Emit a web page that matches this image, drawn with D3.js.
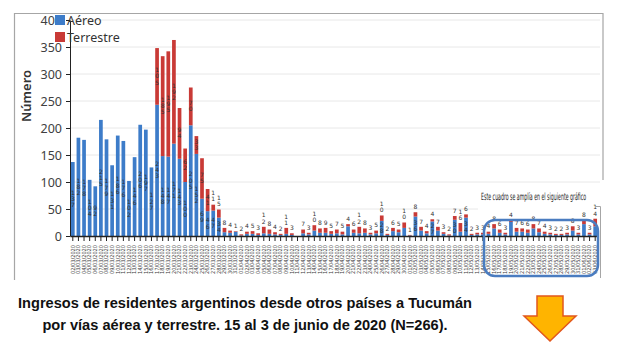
<!DOCTYPE html>
<html>
<head>
<meta charset="utf-8">
<script src="https://cdn.jsdelivr.net/npm/d3@7"></script>
<style>
  body { margin: 0; background: #fff; }
  svg { display: block; }
</style>
</head>
<body>
<svg id="chart" width="634" height="353"></svg>
<script>
// días de ingreso (categorías), del 2 de marzo al 3 de junio
const inicio = new Date(2020, 2, 2);
const fin = new Date(2020, 5, 4);
const dias = d3.timeDay.range(inicio, fin);

// valores
const aereo = [137, 182, 178, 104, 92, 215, 179, 131, 186, 176,
  102, 146, 206, 197, 127, 243, 148, 147, 171, 143,
  100, 205, 152, 69, 46, 47, 34, 7, 6, 8,
  1, 4, 4, 2, 5, 4, 3, 2, 4, 2,
  0, 5, 3, 10, 6, 6, 4, 5, 3, 18,
  6, 5, 6, 3, 5, 28, 2, 9, 7, 15,
  1, 36, 10, 5, 27, 10, 4, 1, 30, 8,
  34, 2, 3, 3, 4, 14, 6, 3, 26, 8,
  8, 6, 14, 7, 4, 3, 2, 2, 3, 10,
  3, 22, 3, 18];
const terrestre = [0, 0, 0, 0, 0, 0, 0, 0, 0, 0,
  0, 0, 0, 0, 0, 105, 185, 195, 192, 94,
  62, 70, 33, 75, 41, 11, 15, 8, 4, 1,
  2, 4, 5, 3, 12, 8, 4, 2, 11, 3,
  0, 7, 3, 10, 8, 9, 5, 7, 5, 4,
  6, 12, 8, 3, 5, 10, 2, 6, 5, 10,
  1, 8, 7, 4, 4, 7, 3, 2, 7, 16,
  6, 2, 3, 3, 4, 8, 6, 3, 4, 7,
  6, 6, 8, 7, 4, 3, 2, 2, 3, 8,
  3, 8, 3, 14];
const series = ["Aéreo", "Terrestre"];
const colores = ["#3d7cc9", "#c93a36"];
const yTicks = [0, 50, 100, 150, 200, 250, 300, 350, 400];

const fmt = d3.timeFormat("%d/%m/%Y");
const datos = dias.map((d, i) => ({ fecha: fmt(d), aereo: aereo[i], terrestre: terrestre[i] }));

const svg = d3.select("#chart");

// marco del gráfico
svg.append("path")
  .attr("d", "M603,180V13.5H14.5V280")
  .attr("fill", "none")
  .attr("stroke", "#a6a6a6")
  .attr("stroke-width", 1.2);

const x = d3.scaleBand()
  .domain(datos.map(d => d.fecha))
  .range([70, 598])
  .paddingInner(0.34)
  .paddingOuter(0.17);

const y = d3.scaleLinear().domain([0, 400]).range([236, 20]);

// grilla
svg.append("g")
  .selectAll("line")
  .data(yTicks.filter(t => t > 0))
  .join("line")
  .attr("x1", 70).attr("x2", 600)
  .attr("y1", d => y(d)).attr("y2", d => y(d))
  .attr("stroke", "#e8e8e8");

// recuadro pegado encima (tapa parte de la grilla)
svg.append("rect")
  .attr("x", 478).attr("y", 183)
  .attr("width", 140).attr("height", 36)
  .attr("fill", "#fff");

const stack = d3.stack().keys(["aereo", "terrestre"])(datos);

const capas = svg.append("g")
  .selectAll("g")
  .data(stack)
  .join("g")
  .attr("fill", (d, i) => colores[i]);

capas.selectAll("rect")
  .data(d => d)
  .join("rect")
  .attr("x", d => x(d.data.fecha))
  .attr("width", x.bandwidth())
  .attr("y", d => y(d[1]))
  .attr("height", d => y(d[0]) - y(d[1]));

// etiquetas de valores (dígitos apilados)
const etiquetas = svg.append("g")
  .attr("font-family", "DejaVu Sans, sans-serif")
  .attr("font-size", 6)
  .attr("fill", "#333")
  .attr("text-anchor", "middle");

stack.forEach((capa, k) => {
  capa.forEach(seg => {
    const v = seg[1] - seg[0];
    if (v <= 0) return;
    const txt = String(v).split("");
    const h = y(seg[0]) - y(seg[1]);
    const alto = txt.length * 6.2;
    const esTope = k === 1 || seg.data.terrestre === 0;
    let y0;
    if (h >= alto + 2) {
      y0 = (y(seg[0]) + y(seg[1])) / 2 - alto / 2 + 5;
    } else if (esTope) {
      y0 = y(seg[1]) - alto + 3;
    } else {
      return;
    }
    const t = etiquetas.append("text")
      .attr("x", x(seg.data.fecha) + x.bandwidth() / 2);
    txt.forEach((c, j) => {
      t.append("tspan")
        .attr("x", x(seg.data.fecha) + x.bandwidth() / 2)
        .attr("y", y0 + j * 6.2)
        .text(c);
    });
  });
});

// eje Y
const ejeY = svg.append("g")
  .attr("transform", "translate(70,0)")
  .call(d3.axisLeft(y).tickValues(yTicks).tickSize(4).tickSizeOuter(0));
ejeY.select(".domain").attr("stroke", "#222");
ejeY.selectAll(".tick line").attr("stroke", "#222");
ejeY.selectAll("text")
  .attr("font-family", "Noto Sans, sans-serif")
  .attr("font-size", 12.5)
  .attr("fill", "#404040")
  .attr("dx", -1);

// eje X
const ejeX = svg.append("g")
  .attr("transform", "translate(0,236)")
  .call(d3.axisBottom(x).tickSize(5).tickSizeOuter(0));
ejeX.select(".domain").attr("stroke", "#222").attr("stroke-width", 1.3);
ejeX.selectAll(".tick line").attr("stroke", "#222");
ejeX.selectAll("text")
  .attr("font-family", "DejaVu Sans Condensed, sans-serif")
  .attr("font-size", 5.6)
  .attr("fill", "#3a3a3a")
  .attr("text-anchor", "end")
  .attr("transform", "translate(0,9) rotate(-90)")
  .attr("x", 0).attr("y", 0).attr("dy", "0.32em");

// título del eje
svg.append("text")
  .attr("transform", "translate(31,96) rotate(-90)")
  .attr("text-anchor", "middle")
  .attr("font-family", "Noto Sans, sans-serif")
  .attr("font-size", 13)
  .attr("font-weight", 600)
  .attr("fill", "#333")
  .text("Número");

// leyenda
const ley = svg.append("g").attr("font-family", "Noto Sans, sans-serif").attr("font-size", 12.5).attr("fill", "#333");
series.forEach((s, i) => {
  ley.append("rect")
    .attr("x", 55).attr("y", 15 + i * 17)
    .attr("width", 10).attr("height", 10)
    .attr("fill", colores[i]);
  ley.append("text")
    .attr("x", 67).attr("y", 25 + i * 17)
    .text(s);
});

// nota y recuadro azul (texto muy angosto, escalado en horizontal)
svg.append("text")
  .attr("transform", "translate(481,200) scale(0.52,1)")
  .attr("font-family", "DejaVu Sans Condensed, sans-serif")
  .attr("font-size", 10)
  .attr("fill", "#222")
  .text("Este cuadro se amplía en el siguiente gráfico");

svg.append("path")
  .attr("d", "M595,206.5H600.5V278")
  .attr("fill", "none")
  .attr("stroke", "#a6a6a6");

svg.append("rect")
  .attr("x", 484).attr("y", 220)
  .attr("width", 114).attr("height", 56)
  .attr("rx", 11)
  .attr("fill", "none")
  .attr("stroke", "#4a7cc0")
  .attr("stroke-width", 2.5);

// título
const titulo = svg.append("text")
  .attr("text-anchor", "middle")
  .attr("font-family", "Liberation Sans, Arial, sans-serif")
  .attr("font-size", 14.6)
  .attr("font-weight", "bold")
  .attr("fill", "#111");
titulo.append("tspan").attr("x", 245).attr("y", 308)
  .text("Ingresos de residentes argentinos desde otros países a Tucumán");
titulo.append("tspan").attr("x", 245).attr("y", 330)
  .text("por vías aérea y terrestre. 15 al 3 de junio de 2020 (N=266).");

// flecha
svg.append("polygon")
  .attr("points", "537,296 563,296 563,316 576,316 550,341 524,316 537,316")
  .attr("fill", "#ffb400")
  .attr("stroke", "#e2571c")
  .attr("stroke-width", 1.5)
  .attr("stroke-linejoin", "miter");
</script>
</body>
</html>
